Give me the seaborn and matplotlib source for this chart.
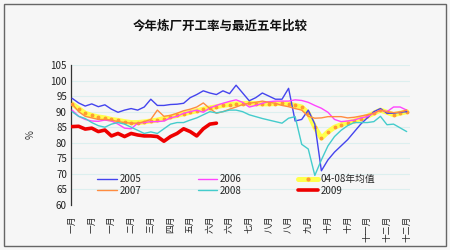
import numpy as np
import pandas as pd
import matplotlib
matplotlib.use("Agg")
import matplotlib.pyplot as plt
import seaborn as sns

sns.set_style("white")
plt.rcParams['font.family'] = ['Noto Sans CJK SC', 'DejaVu Sans']

title = "今年炼厂开工率与最近五年比较"
tick_labels = ["一月", "一月", "一月", "二月", "三月", "四月", "五月", "六月", "六月",
               "七月", "八月", "八月", "九月", "十月", "十月", "十一月", "十二月", "十二月"]
weeks = list(range(52))

y2005 = [94.3, 92.8, 91.8, 92.5, 91.6, 92.2, 90.8, 89.8, 90.5, 91.0, 90.5, 91.5, 94.0, 92.0,
         92.0, 92.3, 92.4, 92.7, 94.5, 95.5, 96.7, 96.0, 95.5, 96.7, 95.8, 98.5, 96.0, 93.5,
         94.5, 96.0, 95.0, 94.0, 94.0, 97.5, 87.0, 87.5, 90.5, 86.0, 71.0, 74.5, 77.0, 79.0,
         81.0, 83.5, 86.0, 88.0, 90.0, 91.0, 89.5, 89.5, 89.8, 90.0]
y2006 = [90.5, 88.5, 87.5, 87.0, 86.9, 87.3, 87.0, 86.0, 84.7, 84.5, 86.3, 86.5, 86.8, 86.8,
         87.0, 88.0, 88.5, 89.5, 90.0, 90.5, 89.8, 91.2, 92.0, 92.7, 93.3, 93.8, 93.0, 91.5,
         92.0, 92.7, 93.2, 93.4, 93.4, 93.4, 93.8, 93.6, 93.0, 92.0, 91.1, 89.8, 87.5, 86.8,
         87.0, 87.3, 88.0, 88.4, 89.5, 90.5, 90.0, 91.5, 91.5, 90.5]
y2007 = [92.5, 90.0, 88.5, 88.0, 87.5, 87.5, 87.3, 86.8, 86.5, 86.3, 86.3, 86.8, 87.5, 90.5,
         88.5, 88.8, 89.5, 90.3, 90.8, 91.5, 92.8, 91.0, 89.5, 90.0, 90.8, 91.5, 92.3, 92.7,
         93.0, 93.4, 93.0, 92.7, 92.0, 91.6, 91.0, 90.5, 88.5, 87.9, 88.0, 88.4, 88.4, 88.4,
         88.0, 88.2, 88.6, 89.0, 89.5, 90.5, 90.0, 89.7, 89.9, 90.5]
y2008 = [90.0, 88.5, 87.8, 86.5, 85.5, 85.0, 86.0, 86.5, 86.0, 85.0, 84.0, 83.0, 83.5, 83.0,
         84.5, 86.0, 86.5, 86.5, 87.3, 88.0, 89.0, 90.0, 89.6, 90.0, 90.5, 90.5, 90.0, 89.0,
         88.4, 87.8, 87.3, 86.8, 86.3, 87.9, 88.4, 79.5, 78.0, 69.5, 74.5, 79.0, 82.0, 84.0,
         85.5, 86.5, 86.5, 86.5, 86.8, 88.5, 85.8, 86.0, 84.8, 83.6]
y_avg = [92.5, 91.0, 89.5, 88.8, 88.3, 88.0, 87.5, 87.2, 86.8, 86.5, 86.5, 86.7, 87.0, 87.3,
         87.8, 88.3, 88.8, 89.3, 89.8, 90.3, 90.8, 91.2, 91.6, 92.0, 92.3, 92.5, 92.6, 92.7,
         92.6, 92.5, 92.5, 92.6, 92.7, 92.5, 92.0, 91.5, 89.5, 85.0, 81.5, 83.5, 85.0, 85.8,
         86.5, 87.0, 87.8, 88.5, 89.5, 90.5, 89.8, 89.0, 89.5, 90.0]
y2009 = [85.2, 85.3, 84.4, 84.7, 83.6, 84.1, 82.2, 83.0, 82.0, 83.0, 82.5, 82.2, 82.2, 82.0,
         80.5, 82.0, 83.0, 84.5, 83.6, 82.2, 84.5, 86.0, 86.3]

bg = '#f6f6f6'
fig = plt.figure(figsize=(4.5, 2.5), dpi=100, facecolor=bg)
ax = fig.add_axes([0.158, 0.18, 0.753, 0.56])
ax.set_facecolor(bg)

for v in range(65, 106, 5):
    ax.axhline(v, color='#dcefef', lw=0.8, zorder=0)

sns.lineplot(x=weeks, y=y_avg, ax=ax, color='#ffff4d', lw=3.6, zorder=2,
             label='04-08年均值')
sns.lineplot(x=weeks, y=y_avg, ax=ax, color='none', lw=0, marker='o', markersize=2.0,
             markerfacecolor='#ff9a30', markeredgecolor='#ff9a30', zorder=3)
sns.lineplot(x=weeks, y=y2005, ax=ax, color='#4444ee', lw=1.0, zorder=4, label='2005')
sns.lineplot(x=weeks, y=y2006, ax=ax, color='#ff44ff', lw=1.0, zorder=4, label='2006')
sns.lineplot(x=weeks, y=y2007, ax=ax, color='#ff8c40', lw=1.0, zorder=4, label='2007')
sns.lineplot(x=weeks, y=y2008, ax=ax, color='#44cccc', lw=1.0, zorder=4, label='2008')
sns.lineplot(x=weeks[:len(y2009)], y=y2009, ax=ax, color='#ee0000', lw=2.6, zorder=5,
             label='2009')

ax.set_xlim(-0.15, 51.5)
ax.set_ylim(60, 105)
ax.set_yticks(range(60, 106, 5))
ax.set_xticks(weeks[::3])
ax.set_xticklabels(tick_labels, rotation=90, fontsize=6.3, color='#222222')
ax.tick_params(axis='y', labelsize=7, colors='#222222', direction='in', length=2, pad=3)
ax.tick_params(axis='x', direction='out', length=1.5, width=1, color='#555555', pad=6)
for s in ['top', 'right', 'bottom']:
    ax.spines[s].set_visible(False)
ax.spines['left'].set_color('#333333')
ax.spines['left'].set_linewidth(0.9)
ax.set_xlabel('')
ax.set_ylabel('%', fontsize=7, color='#333333', labelpad=11)

# legend
h, l = ax.get_legend_handles_labels()
d = dict(zip(l, h))
avg_handle = matplotlib.lines.Line2D([], [], color='#ffff4d', lw=3.6, marker='o', markersize=2.0,
                                     markerfacecolor='#ff9a30', markeredgecolor='#ff9a30')
d['04-08年均值'] = avg_handle
order = ['2005', '2007', '2006', '2008', '04-08年均值', '2009']
ax.get_legend().remove()
fig.legend([d[k] for k in order], order, ncol=3, loc='upper left',
           bbox_to_anchor=(0.205, 0.322), bbox_transform=fig.transFigure, frameon=False,
           fontsize=7, handlelength=2.0, handletextpad=0.3, columnspacing=5.8,
           labelspacing=0.15, borderpad=0)

fig.text(0.49, 0.895, title, ha='center', va='center', fontsize=9, fontweight='bold',
         color='#111111')
fig.patches.append(matplotlib.patches.Rectangle((0.008, 0.015), 0.984, 0.97,
                   transform=fig.transFigure, fill=False, edgecolor='#666666', lw=1.0))

fig.savefig('out.png', dpi=100, facecolor=bg)
